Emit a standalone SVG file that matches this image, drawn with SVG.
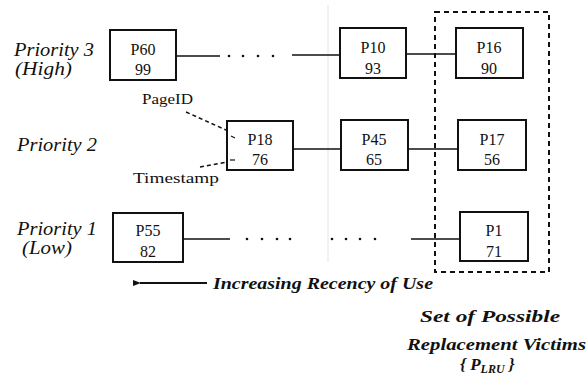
<svg xmlns="http://www.w3.org/2000/svg" width="587" height="381" viewBox="0 0 587 381">
<style>
text{font-family:'Liberation Serif','DejaVu Serif','Times New Roman',serif;fill:#111}
.box{fill:#fff;stroke:#111;stroke-width:2}
.bt{font-size:16px;text-anchor:middle}
.lbl{font-style:italic;font-size:18px}
.sm{font-size:15px}
.cap{font-style:italic;font-weight:bold;font-size:17px}
.ln{stroke:#111;stroke-width:1.6;fill:none}
.dot{fill:#111}
</style>
<defs>
<marker id="ah" markerWidth="8" markerHeight="6" refX="1" refY="3" orient="auto" markerUnits="userSpaceOnUse">
<path d="M8,0 L0,3 L8,6 Z" fill="#111"/>
</marker>
</defs>
<rect width="587" height="381" fill="#fff"/>
<line x1="328" y1="5" x2="328" y2="262" stroke="#e4e4e4" stroke-width="1"/>

<g id="labels">
<text class="lbl" x="14" y="56" textLength="80" lengthAdjust="spacingAndGlyphs">Priority 3</text>
<text class="lbl" x="15" y="75" textLength="57" lengthAdjust="spacingAndGlyphs">(High)</text>
<text class="lbl" x="17" y="151" textLength="80" lengthAdjust="spacingAndGlyphs">Priority 2</text>
<text class="lbl" x="17" y="235" textLength="80" lengthAdjust="spacingAndGlyphs">Priority 1</text>
<text class="lbl" x="22" y="254" textLength="50" lengthAdjust="spacingAndGlyphs">(Low)</text>
</g>

<g id="connectors">
<line class="ln" x1="176" y1="56" x2="220" y2="56"/>
<circle class="dot" cx="229" cy="56" r="1.3"/><circle class="dot" cx="243" cy="56" r="1.3"/><circle class="dot" cx="258" cy="56" r="1.3"/><circle class="dot" cx="273" cy="56" r="1.3"/>
<line class="ln" x1="292" y1="55" x2="340" y2="55"/>
<line class="ln" x1="406" y1="54" x2="456" y2="54"/>
<line class="ln" x1="293" y1="149" x2="341" y2="149"/>
<line class="ln" x1="408" y1="149" x2="458" y2="149" stroke-width="2"/>
<line class="ln" x1="183" y1="239" x2="230" y2="239"/>
<circle class="dot" cx="247" cy="239" r="1.3"/><circle class="dot" cx="262" cy="239" r="1.3"/><circle class="dot" cx="277" cy="239" r="1.3"/><circle class="dot" cx="290" cy="239" r="1.3"/>
<circle class="dot" cx="332" cy="239" r="1.3"/><circle class="dot" cx="346" cy="239" r="1.3"/><circle class="dot" cx="360" cy="239" r="1.3"/><circle class="dot" cx="375" cy="239" r="1.3"/>
<line class="ln" x1="411" y1="239" x2="460" y2="239"/>
<path d="M186,112 L226,130" stroke="#111" stroke-width="1.5" stroke-dasharray="4,3" fill="none"/>
<path d="M200,167 L227,162" stroke="#111" stroke-width="1.5" stroke-dasharray="4,3" fill="none"/>
</g>

<g id="P60"><rect class="box" x="110" y="30" width="66" height="50"/><text class="bt" x="143" y="55">P60</text><text class="bt" x="143" y="75">99</text></g>
<g id="P10"><rect class="box" x="340" y="28" width="66" height="50"/><text class="bt" x="373" y="53">P10</text><text class="bt" x="373" y="74">93</text></g>
<g id="P16"><rect class="box" x="456" y="28" width="67" height="50"/><text class="bt" x="489" y="53">P16</text><text class="bt" x="489" y="74">90</text></g>
<g id="P18"><rect class="box" x="227" y="121" width="66" height="49"/><text class="bt" x="260" y="145">P18</text><text class="bt" x="260" y="165">76</text>
<line x1="231" y1="136" x2="235" y2="138" stroke="#111" stroke-width="1.2"/><line x1="230" y1="160" x2="235" y2="160" stroke="#111" stroke-width="1.2"/></g>
<g id="P45"><rect class="box" x="341" y="120" width="67" height="50"/><text class="bt" x="374" y="145">P45</text><text class="bt" x="374" y="165">65</text></g>
<g id="P17"><rect class="box" x="458" y="120" width="68" height="50"/><text class="bt" x="492" y="145">P17</text><text class="bt" x="492" y="165">56</text></g>
<g id="P55"><rect class="box" x="113" y="213" width="70" height="49"/><text class="bt" x="148" y="236">P55</text><text class="bt" x="148" y="257">82</text></g>
<g id="P1"><rect class="box" x="460" y="212" width="68" height="49"/><text class="bt" x="494" y="236">P1</text><text class="bt" x="494" y="257">71</text></g>

<g id="annotations">
<text class="sm" x="142" y="104" textLength="51" lengthAdjust="spacingAndGlyphs">PageID</text>
<text class="sm" x="133" y="183" textLength="86" lengthAdjust="spacingAndGlyphs">Timestamp</text>
</g>

<g id="victim-set">
<rect x="435" y="12" width="114" height="260" fill="none" stroke="#111" stroke-width="2" stroke-dasharray="5,4"/>
</g>

<g id="recency">
<line x1="207" y1="283" x2="140" y2="283" stroke="#111" stroke-width="2" marker-end="url(#ah)"/>
<text class="cap" x="213" y="289" textLength="220" lengthAdjust="spacingAndGlyphs">Increasing Recency of Use</text>
</g>

<g id="caption">
<text class="cap" x="420" y="322" textLength="140" lengthAdjust="spacingAndGlyphs">Set of Possible</text>
<text class="cap" x="407" y="350" textLength="179" lengthAdjust="spacingAndGlyphs">Replacement Victims</text>
<text class="cap" x="460" y="370">{ <tspan>P</tspan><tspan font-size="12" dy="3">LRU</tspan><tspan dy="-3"> }</tspan></text>
</g>
</svg>
